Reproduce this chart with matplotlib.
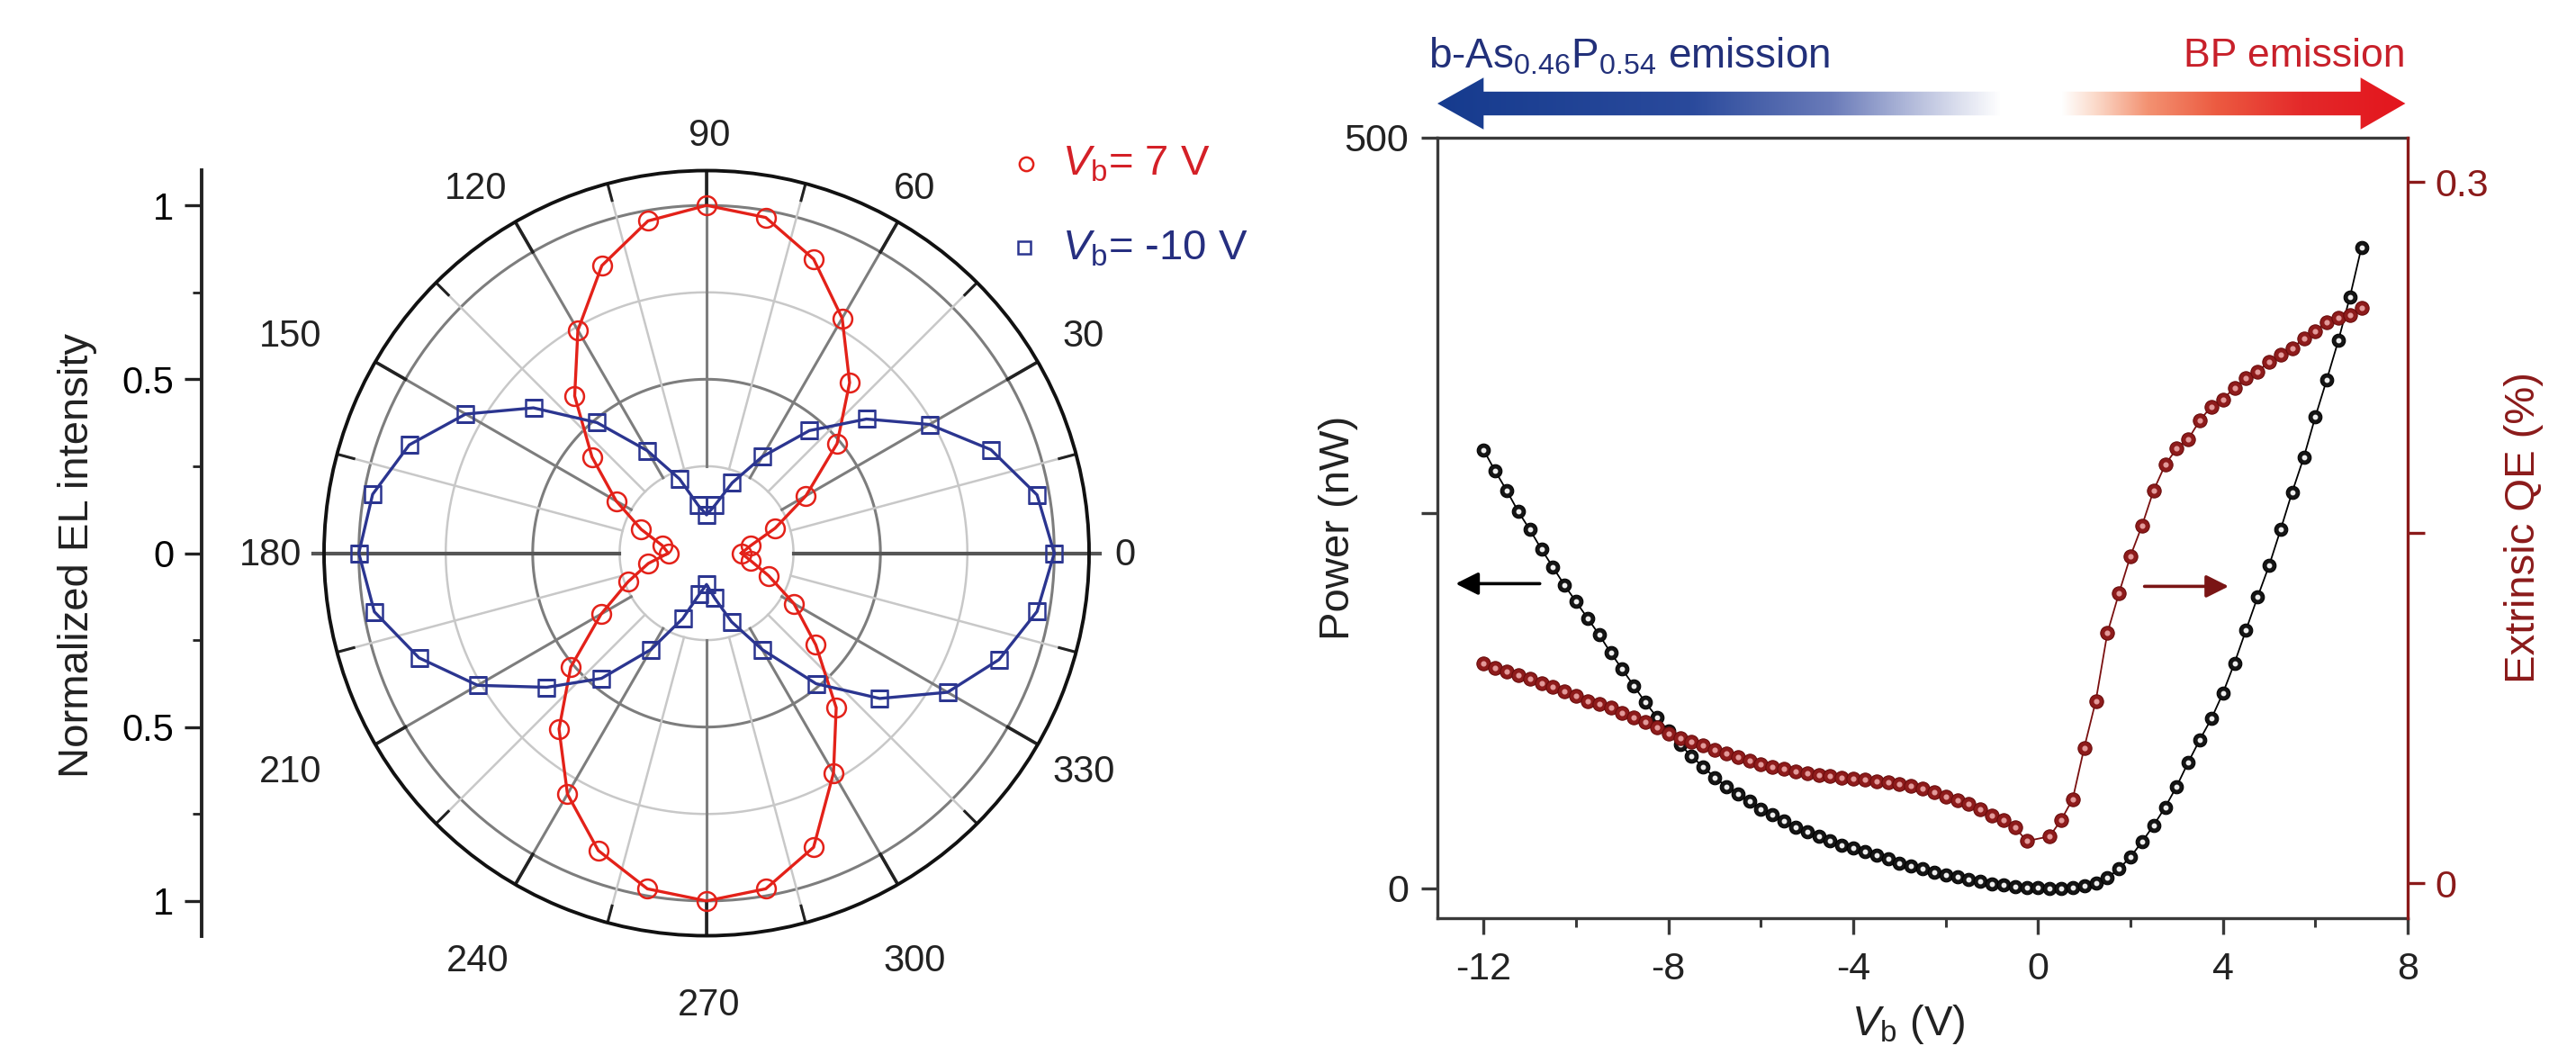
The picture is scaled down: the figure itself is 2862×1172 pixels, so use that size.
import numpy as np
import matplotlib
matplotlib.use("Agg")
import matplotlib.pyplot as plt
from matplotlib.lines import Line2D
from matplotlib.patches import Polygon
from matplotlib.colors import LinearSegmentedColormap

plt.rcParams['font.family'] = ['Liberation Sans', 'DejaVu Sans']
plt.rcParams['mathtext.fontset'] = 'custom'
plt.rcParams['mathtext.rm'] = 'Liberation Sans'
plt.rcParams['mathtext.it'] = 'Liberation Sans:italic'
plt.rcParams['mathtext.bf'] = 'Liberation Sans:bold'

# ---------------- data ----------------
angle_deg = [0, 10, 20, 30, 40, 50, 60, 70, 80, 90, 100, 110, 120, 130, 140, 150, 160, 170,
             180, 190, 200, 210, 220, 230, 240, 250, 260, 270, 280, 290, 300, 310, 320, 330, 340, 350]
el_vb_7 = [0.10, 0.13, 0.21, 0.33, 0.49, 0.64, 0.78, 0.90, 0.98, 1.00, 0.97, 0.88, 0.74, 0.59, 0.43, 0.30, 0.20, 0.13,
           0.11, 0.17, 0.24, 0.35, 0.51, 0.66, 0.80, 0.91, 0.98, 1.00, 0.98, 0.90, 0.73, 0.58, 0.41, 0.29, 0.19, 0.13]
el_vb_m10 = [1.00, 0.965, 0.87, 0.74, 0.60, 0.46, 0.32, 0.215, 0.14, 0.11, 0.14, 0.227, 0.34, 0.49, 0.65, 0.80, 0.91, 0.975,
             1.00, 0.97, 0.88, 0.76, 0.60, 0.47, 0.32, 0.20, 0.12, 0.09, 0.13, 0.21, 0.32, 0.49, 0.65, 0.80, 0.895, 0.965]
polar_tick_vals = [-1, -0.5, 0, 0.5, 1]
polar_tick_labels = ['1', '0.5', '0', '0.5', '1']
theta_labels = [0, 30, 60, 90, 120, 150, 180, 210, 240, 270, 300, 330]

vb_power = [-12.0, -11.75, -11.5, -11.25, -11.0, -10.75, -10.5, -10.25, -10.0, -9.75, -9.5, -9.25,
            -9.0, -8.75, -8.5, -8.25, -8.0, -7.75, -7.5, -7.25, -7.0, -6.75, -6.5, -6.25,
            -6.0, -5.75, -5.5, -5.25, -5.0, -4.75, -4.5, -4.25, -4.0, -3.75, -3.5, -3.25,
            -3.0, -2.75, -2.5, -2.25, -2.0, -1.75, -1.5, -1.25, -1.0, -0.75, -0.5, -0.25,
            0.0, 0.25, 0.5, 0.75, 1.0, 1.25, 1.5, 1.75, 2.0, 2.25, 2.5, 2.75,
            3.0, 3.25, 3.5, 3.75, 4.0, 4.25, 4.5, 4.75, 5.0, 5.25, 5.5, 5.75,
            6.0, 6.25, 6.5, 6.75, 7.0]
power_nw = [292, 278, 265, 251, 239, 226, 214, 202, 191, 180, 169, 157,
            146, 135, 124, 114, 105, 96, 88, 81, 74, 68, 63, 58,
            53, 49, 45, 41, 38, 35, 32, 29, 27, 24.5, 22, 19.5,
            17, 15, 13, 11, 9, 7.5, 6, 4.5, 3.2, 2.2, 1.4, 0.8,
            0.3, 0.1, 0.2, 0.6, 1.5, 3.5, 7, 13, 21, 31, 42, 54,
            68, 84, 99, 113, 130, 150, 172, 194, 215, 239, 264, 287,
            314, 339, 365, 394, 427]

vb_qe = [-12.0, -11.75, -11.5, -11.25, -11.0, -10.75, -10.5, -10.25, -10.0, -9.75, -9.5, -9.25,
         -9.0, -8.75, -8.5, -8.25, -8.0, -7.75, -7.5, -7.25, -7.0, -6.75, -6.5, -6.25,
         -6.0, -5.75, -5.5, -5.25, -5.0, -4.75, -4.5, -4.25, -4.0, -3.75, -3.5, -3.25,
         -3.0, -2.75, -2.5, -2.25, -2.0, -1.75, -1.5, -1.25, -1.0, -0.75, -0.5, -0.25,
         0.25, 0.5, 0.75, 1.0, 1.25, 1.5, 1.75, 2.0, 2.25, 2.5, 2.75,
         3.0, 3.25, 3.5, 3.75, 4.0, 4.25, 4.5, 4.75, 5.0, 5.25, 5.5, 5.75,
         6.0, 6.25, 6.5, 6.75, 7.0]
qe_pct = [0.094, 0.092, 0.0905, 0.089, 0.0875, 0.0855, 0.084, 0.082, 0.080, 0.078, 0.0765, 0.075,
          0.073, 0.071, 0.069, 0.0665, 0.064, 0.062, 0.0605, 0.059, 0.057, 0.0555, 0.054, 0.0525,
          0.051, 0.0498, 0.0488, 0.0478, 0.047, 0.0463, 0.0457, 0.0451, 0.0446, 0.0442, 0.0437, 0.0432,
          0.0425, 0.0415, 0.0405, 0.039, 0.037, 0.0355, 0.034, 0.0315, 0.029, 0.027, 0.024, 0.018,
          0.020, 0.027, 0.036, 0.058, 0.078, 0.107, 0.124, 0.140, 0.153, 0.168, 0.179,
          0.186, 0.190, 0.198, 0.204, 0.207, 0.212, 0.216, 0.219, 0.223, 0.226, 0.229, 0.233,
          0.236, 0.240, 0.242, 0.243, 0.246]

x_ticks = [-12, -8, -4, 0, 4, 8]
x_minor = [-10, -6, -2, 2, 6]
power_ticks = [0, 250, 500]
power_tick_labels = ['0', '', '500']
qe_ticks = [0, 0.15, 0.3]
qe_tick_labels = ['0', '', '0.3']

# ---------------- styling ----------------
RED = '#e32119'
NAVY = '#2b3590'
DARKRED = '#8b1a1a'
W, H = 2862, 1172


def fx(px):
    return px / W


def fy(py):
    return 1 - py / H


fig = plt.figure(figsize=(W / 100, H / 100), dpi=100)

# ---------------- polar panel ----------------
cx, cy, R = 785, 614.5, 425
axp = fig.add_axes([fx(cx - R), fy(cy + R), 2 * R / W, 2 * R / H], projection='polar')
axp.set_ylim(0, 1.1)
axp.set_facecolor('none')
axp.grid(False)
axp.set_xticks([])
axp.set_yticks([])
axp.spines['polar'].set_linewidth(2.8)
axp.spines['polar'].set_color('#111111')

tdense = np.linspace(0, 2 * np.pi, 400)
for r, c, lw in [(0.25, '#c8c8c8', 1.8), (0.5, '#7d7d7d', 2.2), (0.75, '#c8c8c8', 1.8), (1.0, '#7d7d7d', 2.2)]:
    axp.plot(tdense, np.full_like(tdense, r), color=c, lw=lw, zorder=1)
for a in range(0, 360, 15):
    th = np.deg2rad(a)
    major = (a % 30 == 0)
    if a in (0, 180):
        axp.plot([th, th], [0.25, 1.13], color='#555555', lw=3.0, zorder=1.5, clip_on=False)
        continue
    axp.plot([th, th], [0.25, 1.1], color='#7d7d7d' if major else '#c8c8c8',
             lw=2.2 if major else 1.8, zorder=1)
    if major:
        axp.plot([th, th], [1.0, 1.1], color='#222222', lw=2.6, zorder=1.6)
    else:
        axp.plot([th, th], [1.05, 1.1], color='#222222', lw=2.2, zorder=1.6)

# angular labels placed where they sit in the original (pixel centres)
label_px = {90: (788, 151), 60: (1016, 210), 30: (1204, 374), 0: (1250, 617),
            330: (1204, 858), 300: (1016, 1068), 270: (788, 1117), 240: (531, 1068),
            210: (323, 858), 180: (301, 617), 150: (323, 374), 120: (529, 210)}
for a in theta_labels:
    px, py = label_px[a]
    fig.text(fx(px), fy(py), str(a), ha='center', va='center', fontsize=30, color='#222222')

th_data = np.deg2rad(angle_deg)
th_closed = np.append(th_data, th_data[0])
axp.plot(th_closed, np.append(el_vb_7, el_vb_7[0]), '-', color=RED, lw=2.4, zorder=3)
axp.plot(th_data, el_vb_7, 'o', ms=15, mfc='none', mec=RED, mew=1.8, zorder=4)
axp.plot(th_closed, np.append(el_vb_m10, el_vb_m10[0]), '-', color=NAVY, lw=2.4, zorder=3)
axp.plot(th_data, el_vb_m10, 's', ms=13, mfc='none', mec=NAVY, mew=1.8, zorder=4)

# left linear axis of the polar panel
axl = fig.add_axes([fx(224), fy(cy + R), 0.0004, 2 * R / H])
axl.set_ylim(-1.1, 1.1)
axl.set_facecolor('none')
for s in ['right', 'top', 'bottom']:
    axl.spines[s].set_visible(False)
axl.spines['left'].set_linewidth(2.8)
axl.spines['left'].set_color('#222222')
axl.set_xticks([])
axl.set_yticks(polar_tick_vals)
axl.set_yticklabels(polar_tick_labels)
axl.set_yticks([-0.75, -0.25, 0.25, 0.75], minor=True)
axl.tick_params(axis='y', which='major', direction='out', length=14, width=2.4, labelsize=30, pad=8, color='#222222')
axl.tick_params(axis='y', which='minor', direction='out', length=7, width=2.0, color='#222222')
fig.text(fx(86), fy(617), 'Normalized EL intensity', rotation=90, ha='center', va='center',
         fontsize=34, color='#222222')

# legend
fig.add_artist(Line2D([fx(1140)], [fy(182)], marker='o', ms=11, mfc='none', mec=RED, mew=1.8,
                      transform=fig.transFigure))
fig.text(fx(1180), fy(195), r'$V_\mathrm{b}$= 7 V', ha='left', va='baseline', fontsize=34, color='#d42027')
fig.add_artist(Line2D([fx(1138)], [fy(275)], marker='s', ms=10, mfc='none', mec=NAVY, mew=1.8,
                      transform=fig.transFigure))
fig.text(fx(1180), fy(288), r'$V_\mathrm{b}$= -10 V', ha='left', va='baseline', fontsize=34, color='#262f80')

# ---------------- right panel ----------------
axr = fig.add_axes([fx(1597), fy(1020), (2675 - 1597) / W, (1020 - 153) / H])
axr.set_xlim(-13, 8)
axr.set_ylim(-19.8, 500)
axq = axr.twinx()
axq.set_ylim(-0.015, 0.319)

axr.plot(vb_power, power_nw, '-', color='black', lw=1.3, zorder=2)
axr.plot(vb_power, power_nw, 'o', ms=10.5, mfc='#151515', mec='#000000', mew=0.8, zorder=3)
axr.plot(vb_power, power_nw, 'o', ms=3.2, color='#eeeeee', zorder=4)

axq.plot(vb_qe, qe_pct, '-', color='#7a1010', lw=1.3, zorder=2)
axq.plot(vb_qe, qe_pct, 'o', ms=11, mfc='#8e1b1b', mec='#6a0c0c', mew=0.8, zorder=3)
axq.plot(vb_qe, qe_pct, 'o', ms=3.4, color='#e39a9a', zorder=4)

for s in ['left', 'bottom', 'top']:
    axr.spines[s].set_linewidth(2.4)
    axr.spines[s].set_color('#3a3a3a')
    axq.spines[s].set_visible(False)
axr.spines['right'].set_visible(False)
axq.spines['right'].set_linewidth(2.4)
axq.spines['right'].set_color(DARKRED)

axr.set_xticks(x_ticks)
axr.set_xticklabels([str(v) for v in x_ticks])
axr.set_xticks(x_minor, minor=True)
axr.set_yticks(power_ticks)
axr.set_yticklabels(power_tick_labels)
axr.tick_params(axis='both', which='major', direction='out', length=13, width=2.4,
                labelsize=31, pad=10, color='#3a3a3a', labelcolor='#222222')
axr.tick_params(axis='x', which='minor', direction='out', length=7, width=2.2, color='#3a3a3a')
axr.tick_params(axis='x', which='major', pad=14)

axq.set_yticks(qe_ticks)
axq.set_yticklabels(qe_tick_labels)
axq.tick_params(axis='y', which='major', direction='out', length=14, width=2.4,
                labelsize=31, pad=8, color=DARKRED, labelcolor=DARKRED)

axr.set_xlabel(r'$V_\mathrm{b}$ (V)', fontsize=34, color='#222222')
axr.xaxis.set_label_coords(0.485, -0.136)
axr.xaxis.label.set_va('center')
axr.set_ylabel('Power (nW)', fontsize=34, color='#222222')
axr.yaxis.set_label_coords(-0.102, 0.5)
axr.yaxis.label.set_va('center')
axq.set_ylabel('Extrinsic QE (%)', fontsize=34, color=DARKRED)
axq.yaxis.set_label_coords(1.12, 0.5)
axq.yaxis.label.set_va('center')

axr.annotate('', xy=(-12.66, 203), xytext=(-10.73, 203),
             arrowprops=dict(arrowstyle='-|>', color='black', lw=2.6, mutation_scale=38))
axq.annotate('', xy=(4.18, 0.127), xytext=(2.25, 0.127),
             arrowprops=dict(arrowstyle='-|>', color='#7a1515', lw=2.6, mutation_scale=38))

# ---------------- gradient arrows on top ----------------
axa = fig.add_axes([fx(1597), fy(145), (2675 - 1597) / W, 60 / H])
axa.set_xlim(-13, 8)
axa.set_ylim(0, 1)
axa.axis('off')

blue_cmap = LinearSegmentedColormap.from_list(
    'bl', [(0, '#163b8e'), (0.45, '#2a4a9c'), (0.7, '#6a7bb9'), (0.86, '#bcc3df'), (1.0, '#ffffff')])
red_cmap = LinearSegmentedColormap.from_list(
    'rd', [(0, '#ffffff'), (0.1, '#fbd9c9'), (0.25, '#f39272'), (0.45, '#ec5b41'), (0.7, '#e4292a'), (1.0, '#e3151d')])
grad = np.linspace(0, 1, 512).reshape(1, -1)

bpoly = Polygon([(-13.0, 0.5), (-12.0, 0.98), (-12.0, 0.72), (-0.8, 0.72), (-0.8, 0.28),
                 (-12.0, 0.28), (-12.0, 0.02)], closed=True, fc='none', ec='none')
axa.add_patch(bpoly)
im = axa.imshow(grad, cmap=blue_cmap, extent=[-13.0, -0.8, 0, 1], aspect='auto', interpolation='bilinear')
im.set_clip_path(bpoly)

rpoly = Polygon([(7.95, 0.5), (6.98, 0.98), (6.98, 0.72), (0.5, 0.72), (0.5, 0.28),
                 (6.98, 0.28), (6.98, 0.02)], closed=True, fc='none', ec='none')
axa.add_patch(rpoly)
im2 = axa.imshow(grad, cmap=red_cmap, extent=[0.5, 7.95, 0, 1], aspect='auto', interpolation='bilinear')
im2.set_clip_path(rpoly)
axa.set_xlim(-13, 8)
axa.set_ylim(0, 1)

fig.text(fx(1587), fy(63), r'b-As$_{0.46}$P$_{0.54}$ emission', ha='left', va='center',
         fontsize=33, color='#22307a')
fig.text(fx(2673), fy(63), 'BP emission', ha='right', va='center', fontsize=32, color='#c8202a')

fig.savefig('out.png', dpi=100)
